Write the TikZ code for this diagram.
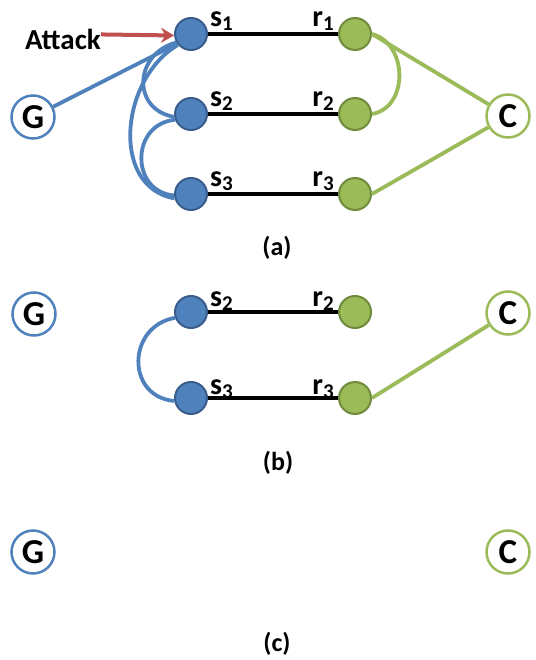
\documentclass[tikz,border=0pt]{standalone}
\usepackage{fontspec}
\setmainfont{Carlito}
\usepackage{tikz}
\usetikzlibrary{arrows.meta}
\definecolor{nodeblue}{HTML}{4F81BD}
\definecolor{edgeblue}{HTML}{385D8A}
\definecolor{nodegreen}{HTML}{9BBB59}
\definecolor{edgegreen}{HTML}{6E8A3A}
\definecolor{attackred}{HTML}{C0504D}
\newcommand{\sublab}[2]{{\fontsize{30}{30}\selectfont\bfseries #1\raisebox{-4pt}{\fontsize{21}{21}\selectfont #2}}}

\begin{document}
\begin{tikzpicture}[x=1pt,y=1pt,
  snode/.style={circle,fill=nodeblue,draw=edgeblue,line width=2pt,minimum size=32pt,inner sep=0pt},
  rnode/.style={circle,fill=nodegreen,draw=edgegreen,line width=2pt,minimum size=32pt,inner sep=0pt},
  gnode/.style={circle,fill=white,draw=nodeblue,line width=2.5pt,minimum size=43pt,inner sep=0pt,font=\fontsize{35}{35}\selectfont\bfseries},
  cnode/.style={gnode,draw=nodegreen},
  lbl/.style={inner sep=0pt},
  link/.style={line width=4.5pt,black},
  bluelink/.style={line width=3.8pt,nodeblue},
  greenlink/.style={line width=3.8pt,nodegreen},
  caption/.style={font=\fontsize{26}{26}\selectfont\bfseries}]
\useasboundingbox (0,0) rectangle (535,-660);

% (a) all three paths
\node[gnode] (Ga) at (33,-117) {G};
\node[cnode] (Ca) at (508,-116) {C};
\node[snode] (s1a) at (191,-34) {};
\node[snode] (s2a) at (191,-114) {};
\node[snode] (s3a) at (191,-194) {};
\node[rnode] (r1a) at (355,-34) {};
\node[rnode] (r2a) at (355,-114) {};
\node[rnode] (r3a) at (355,-194) {};
\node[lbl,anchor=base west] (s1al) at (210,-27) {\sublab{s}{1}};
\node[lbl,anchor=base west] (s2al) at (210,-107) {\sublab{s}{2}};
\node[lbl,anchor=base west] (s3al) at (210,-187) {\sublab{s}{3}};
\node[lbl,anchor=base east] (r1al) at (334,-27) {\sublab{r}{1}};
\node[lbl,anchor=base east] (r2al) at (334,-107) {\sublab{r}{2}};
\node[lbl,anchor=base east] (r3al) at (334,-187) {\sublab{r}{3}};
\node[lbl,anchor=base east,font=\fontsize{29}{29}\selectfont\bfseries] (attack) at (101,-50) {Attack};

\draw[link] (s1a) -- (r1a);
\draw[link] (s2a) -- (r2a);
\draw[link] (s3a) -- (r3a);
\draw[bluelink] (Ga) -- (s1a.215);
\draw[bluelink] (s1a.210) to[out=195,in=170,looseness=1.5] (s2a.190);
\draw[bluelink] (s2a.200) to[out=185,in=175,looseness=1.5] (s3a.185);
\draw[bluelink] (s1a.220) to[out=210,in=170,looseness=1.1] (s3a.195);
\draw[greenlink] (r1a.east) to[out=-15,in=10,looseness=1.2] (r2a.east);
\draw[greenlink] (r1a.east) -- (Ca);
\draw[greenlink] (r3a.east) -- (Ca);
\draw[attackred,line width=4pt,-{Stealth[length=13pt,width=15pt]}] ([yshift=-5pt]attack.north east) -- (s1a.185);
\node[caption] (capa) at (277,-248) {(a)};

% (b) after the first path is cut
\node[gnode] (Gb) at (34,-314) {G};
\node[cnode] (Cb) at (508,-313) {C};
\node[snode] (s2b) at (191,-312) {};
\node[snode] (s3b) at (191,-398) {};
\node[rnode] (r2b) at (355,-312) {};
\node[rnode] (r3b) at (355,-398) {};
\node[lbl,anchor=base west] (s2bl) at (210,-306) {\sublab{s}{2}};
\node[lbl,anchor=base west] (s3bl) at (210,-394) {\sublab{s}{3}};
\node[lbl,anchor=base east] (r2bl) at (334,-306) {\sublab{r}{2}};
\node[lbl,anchor=base east] (r3bl) at (334,-394) {\sublab{r}{3}};

\draw[link] (s2b) -- (r2b);
\draw[link] (s3b) -- (r3b);
\draw[bluelink] (s2b.200) to[out=190,in=175,looseness=1.5] (s3b.190);
\draw[greenlink] (r3b.east) -- (Cb);
\node[caption] (capb) at (278,-463) {(b)};

% (c) nothing left
\node[gnode] (Gc) at (33,-552) {G};
\node[cnode] (Cc) at (508,-552) {C};
\node[caption] (capc) at (277,-644) {(c)};
\end{tikzpicture}
\end{document}
